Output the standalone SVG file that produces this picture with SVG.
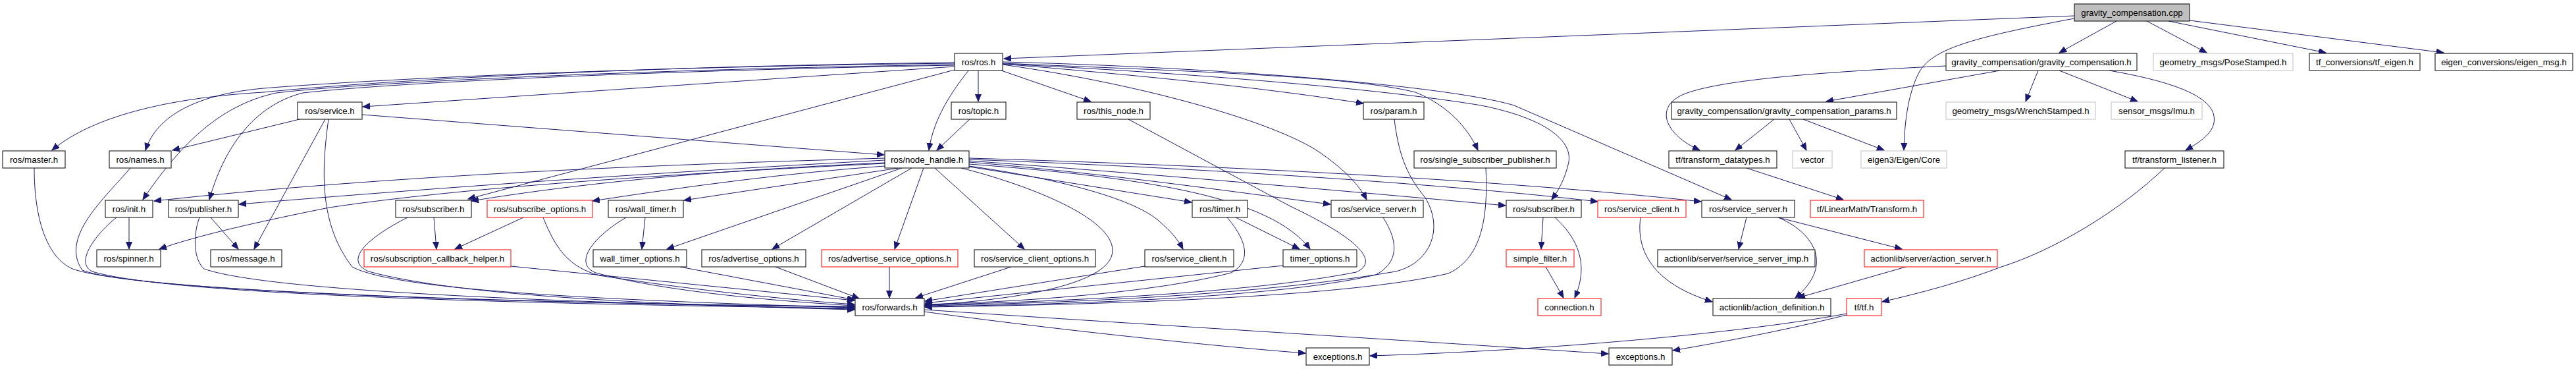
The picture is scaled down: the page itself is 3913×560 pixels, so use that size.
<svg xmlns="http://www.w3.org/2000/svg" width="3913" height="560" viewBox="0 0 3913 560">
<style>
.n rect{fill:#fff;stroke:#000;stroke-width:1}
.n.red rect{stroke:#ff0000}
.n.gry rect{stroke:#bfbfbf}
.n.root rect{fill:#bfbfbf;stroke:#000}
.n text{font-family:"Liberation Sans",Arial,Helvetica,sans-serif;font-size:13.3px;text-anchor:middle;fill:#000}
.e path{fill:none;stroke:#191970;stroke-width:1;marker-end:url(#ah)}
</style>
<defs>
<marker id="ah" markerUnits="userSpaceOnUse" markerWidth="12" markerHeight="10" refX="11" refY="4.5" orient="auto"><path d="M0,0 L11,4.5 L0,9 z" fill="#191970" stroke="#191970" stroke-width="1"/></marker>
</defs>
<rect x="0" y="0" width="3913" height="560" fill="#fff"/>
<g id="edges" class="e">
<path d="M3151,24 L1525,89"/>
<path d="M3215,32 L3128,80"/>
<path d="M3151,28 C2990,58 2935,75 2915,110 C2897,145 2893,190 2892,228"/>
<path d="M3261,32 L3352,80"/>
<path d="M3294,32 L3533,80"/>
<path d="M3326,31 L3712,80"/>
<path d="M3038,107 L2774,154"/>
<path d="M3096,107 L3077,154"/>
<path d="M3128,107 L3247,154"/>
<path d="M3204,107 C3290,122 3352,142 3362,172 C3370,197 3345,214 3320,228"/>
<path d="M2956,100 C2800,108 2625,118 2560,142 C2510,162 2530,205 2582,228"/>
<path d="M2695,181 L2636,228"/>
<path d="M2718,181 L2744,228"/>
<path d="M2739,181 L2862,228"/>
<path d="M2653,255 L2800,303"/>
<path d="M3288,255 C3220,320 3120,380 3040,405 C2980,428 2920,444 2859,458"/>
<path d="M2805,476 C2650,505 2350,532 2081,540"/>
<path d="M2805,478 C2700,504 2610,520 2541,532"/>
<path d="M1404,473 C1600,500 1850,526 1983,536"/>
<path d="M1404,470 C1700,490 2100,514 2443,537"/>
<path d="M1450,95 C1000,100 600,120 400,140 C230,150 130,185 79,228"/>
<path d="M1450,96 C1000,101 600,118 400,134 C300,143 238,175 221,228"/>
<path d="M1450,101 L551,162"/>
<path d="M1450,98 C1000,105 560,124 420,141 C330,160 270,225 217,303"/>
<path d="M1450,99 C1000,107 600,125 460,141 C385,160 340,225 318,303"/>
<path d="M1450,106 L711,302"/>
<path d="M1472,106 C1445,140 1418,180 1411,228"/>
<path d="M1486,107 L1486,154"/>
<path d="M1473,181 L1423,228"/>
<path d="M1521,107 L1657,154"/>
<path d="M1523,97 C1800,120 1950,138 2071,157"/>
<path d="M1523,96 C1800,108 2050,115 2150,140 C2200,160 2230,195 2245,228"/>
<path d="M1523,94 C1850,102 2200,130 2300,160 L2630,303"/>
<path d="M1523,97 C1800,110 2100,135 2250,160 C2350,180 2392,215 2382,250 C2376,275 2365,292 2357,303"/>
<path d="M1523,98 C1750,130 1950,190 2010,235 C2045,260 2065,282 2076,303"/>
<path d="M1344,240 C1000,250 600,265 234,305"/>
<path d="M1344,243 C1000,262 700,282 363,310"/>
<path d="M1344,248 C1000,265 700,285 500,315 C400,335 300,357 242,378"/>
<path d="M1344,247 C1100,258 900,275 716,305"/>
<path d="M1344,252 C1200,262 1050,282 900,305"/>
<path d="M1365,255 L1039,304"/>
<path d="M1370,255 L1013,378"/>
<path d="M1385,255 L1173,378"/>
<path d="M1403,255 L1359,378"/>
<path d="M1420,255 L1556,378"/>
<path d="M1460,255 C1560,280 1690,330 1690,380 C1690,430 1550,455 1405,463"/>
<path d="M1472,252 C1600,270 1720,300 1760,335 C1780,352 1790,365 1797,378"/>
<path d="M1472,253 L1810,307"/>
<path d="M1472,249 C1750,270 1930,300 1990,378"/>
<path d="M1472,246 C1700,265 1900,295 2021,310"/>
<path d="M1472,244 C1800,268 2100,295 2287,312"/>
<path d="M1472,242 C1900,258 2250,285 2427,306"/>
<path d="M1472,240 C1950,254 2350,280 2584,306"/>
<path d="M455,181 L262,228"/>
<path d="M550,174 L1343,235"/>
<path d="M494,181 L386,378"/>
<path d="M499,181 C488,260 485,340 535,405 C600,440 900,455 1298,467"/>
<path d="M52,255 C52,330 70,390 110,408 C200,440 700,460 1298,465"/>
<path d="M198,255 C160,300 90,360 125,410 C200,440 700,458 1298,466"/>
<path d="M196,330 L196,378"/>
<path d="M177,330 C140,360 115,400 140,412 C250,445 700,460 1298,468"/>
<path d="M320,330 L362,378"/>
<path d="M303,330 C292,360 295,395 310,408 C400,440 800,458 1298,469"/>
<path d="M659,330 L663,378"/>
<path d="M619,330 C560,360 520,395 560,412 C700,450 1000,462 1298,470"/>
<path d="M795,330 L691,378"/>
<path d="M825,330 C845,380 865,405 910,418 C1050,440 1200,455 1298,462"/>
<path d="M776,404 L1298,456"/>
<path d="M980,330 L975,378"/>
<path d="M951,330 C900,360 870,400 905,414 C1000,440 1150,455 1298,464"/>
<path d="M1033,405 L1298,455"/>
<path d="M1178,405 L1305,453"/>
<path d="M1351,405 L1351,452"/>
<path d="M1536,405 L1391,452"/>
<path d="M1739,404 L1405,457"/>
<path d="M1864,330 C1890,360 1905,395 1870,414 C1750,445 1550,458 1405,462"/>
<path d="M1877,330 L1974,378"/>
<path d="M1950,403 L1405,460"/>
<path d="M1714,181 L1960,313 C2080,370 2090,400 2060,413 C1900,445 1600,458 1405,463"/>
<path d="M2118,181 C2125,240 2140,270 2165,300 C2195,350 2170,400 2120,412 C1900,450 1600,460 1405,464"/>
<path d="M2257,255 C2260,320 2255,390 2200,415 C2050,450 1700,462 1405,466"/>
<path d="M2101,330 C2120,360 2130,395 2090,417 C1950,450 1650,462 1405,465"/>
<path d="M2344,330 L2341,378"/>
<path d="M2362,330 C2395,360 2415,400 2392,452"/>
<path d="M2348,405 L2375,452"/>
<path d="M2492,330 C2485,380 2510,430 2601,458"/>
<path d="M2653,330 L2641,378"/>
<path d="M2701,330 C2750,350 2790,400 2727,452"/>
<path d="M2701,330 L2889,378"/>
<path d="M2895,405 L2731,452"/>
</g>
<g id="n_cpp" class="n root"><rect x="3151" y="6" width="175" height="26"/><text x="3238.5" y="23.5">gravity_compensation.cpp</text></g>
<g id="n_ros" class="n"><rect x="1450" y="81" width="73" height="26"/><text x="1486.5" y="98.5">ros/ros.h</text></g>
<g id="n_gch" class="n"><rect x="2956" y="81" width="290" height="26"/><text x="3101" y="98.5">gravity_compensation/gravity_compensation.h</text></g>
<g id="n_pose" class="n gry"><rect x="3271" y="81" width="212" height="26"/><text x="3377" y="98.5">geometry_msgs/PoseStamped.h</text></g>
<g id="n_tfe" class="n"><rect x="3508" y="81" width="168" height="26"/><text x="3592" y="98.5">tf_conversions/tf_eigen.h</text></g>
<g id="n_emsg" class="n"><rect x="3699" y="81" width="209" height="26"/><text x="3803.5" y="98.5">eigen_conversions/eigen_msg.h</text></g>
<g id="n_service" class="n"><rect x="452" y="155" width="98" height="26"/><text x="501" y="172.5">ros/service.h</text></g>
<g id="n_topic" class="n"><rect x="1445" y="155" width="83" height="26"/><text x="1486.5" y="172.5">ros/topic.h</text></g>
<g id="n_thisnode" class="n"><rect x="1636" y="155" width="111" height="26"/><text x="1691.5" y="172.5">ros/this_node.h</text></g>
<g id="n_param" class="n"><rect x="2071" y="155" width="92" height="26"/><text x="2117" y="172.5">ros/param.h</text></g>
<g id="n_gcp" class="n"><rect x="2539" y="155" width="342" height="26"/><text x="2710" y="172.5">gravity_compensation/gravity_compensation_params.h</text></g>
<g id="n_wrench" class="n gry"><rect x="2956" y="155" width="227" height="26"/><text x="3069.5" y="172.5">geometry_msgs/WrenchStamped.h</text></g>
<g id="n_imu" class="n gry"><rect x="3207" y="155" width="138" height="26"/><text x="3276" y="172.5">sensor_msgs/Imu.h</text></g>
<g id="n_master" class="n"><rect x="4" y="229" width="95" height="26"/><text x="51.5" y="246.5">ros/master.h</text></g>
<g id="n_names" class="n"><rect x="166" y="229" width="94" height="26"/><text x="213" y="246.5">ros/names.h</text></g>
<g id="n_nh" class="n"><rect x="1344" y="229" width="128" height="26"/><text x="1408" y="246.5">ros/node_handle.h</text></g>
<g id="n_ssp" class="n"><rect x="2148" y="229" width="216" height="26"/><text x="2256" y="246.5">ros/single_subscriber_publisher.h</text></g>
<g id="n_tfdt" class="n"><rect x="2535" y="229" width="164" height="26"/><text x="2617" y="246.5">tf/transform_datatypes.h</text></g>
<g id="n_vector" class="n gry"><rect x="2723" y="229" width="60" height="26"/><text x="2753" y="246.5">vector</text></g>
<g id="n_eigen" class="n gry"><rect x="2827" y="229" width="130" height="26"/><text x="2892" y="246.5">eigen3/Eigen/Core</text></g>
<g id="n_tfl" class="n"><rect x="3228" y="229" width="150" height="26"/><text x="3303" y="246.5">tf/transform_listener.h</text></g>
<g id="n_init" class="n"><rect x="160" y="304" width="72" height="26"/><text x="196" y="321.5">ros/init.h</text></g>
<g id="n_pub" class="n"><rect x="256" y="304" width="106" height="26"/><text x="309" y="321.5">ros/publisher.h</text></g>
<g id="n_subL" class="n"><rect x="601" y="304" width="115" height="26"/><text x="658.5" y="321.5">ros/subscriber.h</text></g>
<g id="n_subopt" class="n red"><rect x="740" y="304" width="160" height="26"/><text x="820" y="321.5">ros/subscribe_options.h</text></g>
<g id="n_wt" class="n"><rect x="924" y="304" width="114" height="26"/><text x="981" y="321.5">ros/wall_timer.h</text></g>
<g id="n_timer" class="n"><rect x="1811" y="304" width="84" height="26"/><text x="1853" y="321.5">ros/timer.h</text></g>
<g id="n_ssL" class="n"><rect x="2022" y="304" width="140" height="26"/><text x="2092" y="321.5">ros/service_server.h</text></g>
<g id="n_subR" class="n"><rect x="2288" y="304" width="114" height="26"/><text x="2345" y="321.5">ros/subscriber.h</text></g>
<g id="n_scR" class="n red"><rect x="2427" y="304" width="134" height="26"/><text x="2494" y="321.5">ros/service_client.h</text></g>
<g id="n_ssR" class="n"><rect x="2585" y="304" width="141" height="26"/><text x="2655.5" y="321.5">ros/service_server.h</text></g>
<g id="n_tflm" class="n red"><rect x="2750" y="304" width="172" height="26"/><text x="2836" y="321.5">tf/LinearMath/Transform.h</text></g>
<g id="n_spin" class="n"><rect x="147" y="379" width="97" height="26"/><text x="195.5" y="396.5">ros/spinner.h</text></g>
<g id="n_msg" class="n"><rect x="320" y="379" width="108" height="26"/><text x="374" y="396.5">ros/message.h</text></g>
<g id="n_sch" class="n red"><rect x="553" y="379" width="223" height="26"/><text x="664.5" y="396.5">ros/subscription_callback_helper.h</text></g>
<g id="n_wto" class="n"><rect x="901" y="379" width="142" height="26"/><text x="972" y="396.5">wall_timer_options.h</text></g>
<g id="n_ao" class="n"><rect x="1066" y="379" width="158" height="26"/><text x="1145" y="396.5">ros/advertise_options.h</text></g>
<g id="n_aso" class="n red"><rect x="1248" y="379" width="207" height="26"/><text x="1351.5" y="396.5">ros/advertise_service_options.h</text></g>
<g id="n_sco" class="n"><rect x="1480" y="379" width="184" height="26"/><text x="1572" y="396.5">ros/service_client_options.h</text></g>
<g id="n_sc" class="n"><rect x="1739" y="379" width="135" height="26"/><text x="1806.5" y="396.5">ros/service_client.h</text></g>
<g id="n_to" class="n"><rect x="1949" y="379" width="112" height="26"/><text x="2005" y="396.5">timer_options.h</text></g>
<g id="n_sf" class="n red"><rect x="2288" y="379" width="103" height="26"/><text x="2339.5" y="396.5">simple_filter.h</text></g>
<g id="n_ssi" class="n"><rect x="2518" y="379" width="239" height="26"/><text x="2637.5" y="396.5">actionlib/server/service_server_imp.h</text></g>
<g id="n_as" class="n red"><rect x="2832" y="379" width="202" height="26"/><text x="2933" y="396.5">actionlib/server/action_server.h</text></g>
<g id="n_fwd" class="n"><rect x="1299" y="453" width="105" height="26"/><text x="1351.5" y="470.5">ros/forwards.h</text></g>
<g id="n_conn" class="n red"><rect x="2336" y="453" width="96" height="26"/><text x="2384" y="470.5">connection.h</text></g>
<g id="n_ad" class="n"><rect x="2602" y="453" width="179" height="26"/><text x="2691.5" y="470.5">actionlib/action_definition.h</text></g>
<g id="n_tf" class="n red"><rect x="2805" y="453" width="53" height="26"/><text x="2831.5" y="470.5">tf/tf.h</text></g>
<g id="n_exL" class="n"><rect x="1984" y="528" width="96" height="26"/><text x="2032" y="545.5">exceptions.h</text></g>
<g id="n_exR" class="n"><rect x="2444" y="528" width="96" height="26"/><text x="2492" y="545.5">exceptions.h</text></g>
</svg>
